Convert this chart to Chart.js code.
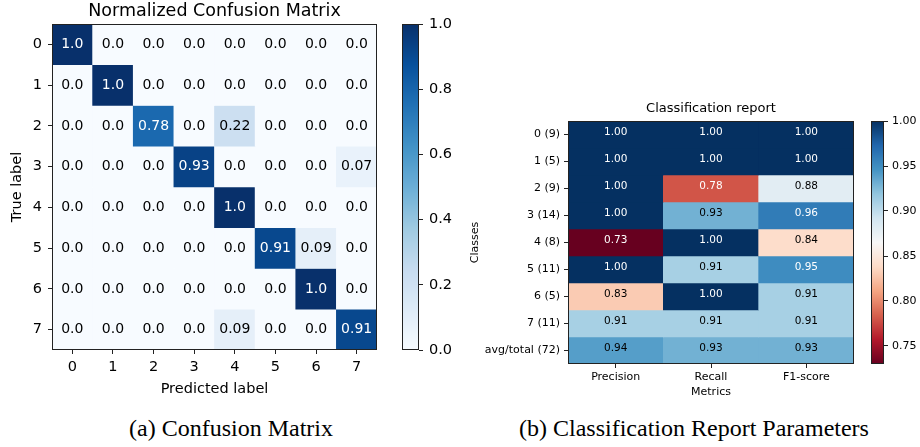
<!DOCTYPE html>
<html>
<head>
<meta charset="utf-8">
<script src="https://cdn.jsdelivr.net/npm/chart.js@4.4.1/dist/chart.umd.min.js"></script>
<style>
    body { margin: 0; background: #fff; }
    #wrap { position: relative; width: 920px; height: 447px; overflow: hidden; background: #fff; }
    #wrap canvas { position: absolute; }
    .cap { position: absolute; top: 415px; font-family: "Liberation Serif", "Times New Roman", serif; font-size: 24px; color: #000; white-space: nowrap; transform: translateX(-50%); }
</style>
</head>
<body>
<div id="wrap">
    <canvas id="cmChart" width="390" height="400" style="left:0;top:0"></canvas>
    <canvas id="cmBar" width="65" height="400" style="left:395px;top:0"></canvas>
    <canvas id="reportChart" width="400" height="310" style="left:460px;top:95px"></canvas>
    <canvas id="reportBar" width="60" height="310" style="left:864px;top:95px"></canvas>
    <div class="cap" style="left:231px">(a) Confusion Matrix</div>
    <div class="cap" style="left:694px">(b) Classification Report Parameters</div>
</div>
<script>
    // Confusion matrix (rows = true label, columns = predicted label)
    const cmLabels = ['0', '1', '2', '3', '4', '5', '6', '7'];
    const cmRow0 = [1.0, 0.0, 0.0, 0.0, 0.0, 0.0, 0.0, 0.0];
    const cmRow1 = [0.0, 1.0, 0.0, 0.0, 0.0, 0.0, 0.0, 0.0];
    const cmRow2 = [0.0, 0.0, 0.78, 0.0, 0.22, 0.0, 0.0, 0.0];
    const cmRow3 = [0.0, 0.0, 0.0, 0.93, 0.0, 0.0, 0.0, 0.07];
    const cmRow4 = [0.0, 0.0, 0.0, 0.0, 1.0, 0.0, 0.0, 0.0];
    const cmRow5 = [0.0, 0.0, 0.0, 0.0, 0.0, 0.91, 0.09, 0.0];
    const cmRow6 = [0.0, 0.0, 0.0, 0.0, 0.0, 0.0, 1.0, 0.0];
    const cmRow7 = [0.0, 0.0, 0.0, 0.0, 0.09, 0.0, 0.0, 0.91];
    const cmBarTicks = [0.0, 0.2, 0.4, 0.6, 0.8, 1.0];

    // Classification report
    const reportClasses = ['0 (9)', '1 (5)', '2 (9)', '3 (14)', '4 (8)', '5 (11)', '6 (5)', '7 (11)', 'avg/total (72)'];
    const reportMetrics = ['Precision', 'Recall', 'F1-score'];
    const precision = [1.00, 1.00, 1.00, 1.00, 0.73, 1.00, 0.83, 0.91, 0.94];
    const recall = [1.00, 1.00, 0.78, 0.93, 1.00, 0.91, 1.00, 0.91, 0.93];
    const f1score = [1.00, 1.00, 0.88, 0.96, 0.84, 0.95, 0.91, 0.91, 0.93];
    const reportBarTicks = [0.75, 0.80, 0.85, 0.90, 0.95, 1.00];
    const reportMin = 0.73, reportMax = 1.00;

    const FONT = "'DejaVu Sans', sans-serif";
    const INK = '#222';

    // matplotlib colormaps
    const BLUES = ['#f7fbff', '#deebf7', '#c6dbef', '#9ecae1', '#6baed6', '#4292c6', '#2171b5', '#08519c', '#08306b'];
    const RDBU = ['#67001f', '#b2182b', '#d6604d', '#f4a582', '#fddbc7', '#f7f7f7', '#d1e5f0', '#92c5de', '#4393c3', '#2166ac', '#053061'];

    function hexRgb(h) {
        return [1, 3, 5].map(i => parseInt(h.slice(i, i + 2), 16));
    }
    function cmap(stops, t) {
        t = Math.max(0, Math.min(1, t));
        const n = stops.length - 1;
        const p = t * n;
        const i = Math.min(Math.floor(p), n - 1);
        const f = p - i;
        const a = hexRgb(stops[i]), b = hexRgb(stops[i + 1]);
        return a.map((c, k) => Math.round(c + (b[k] - c) * f));
    }
    const css = c => `rgb(${c[0]},${c[1]},${c[2]})`;
    const isDark = c => (0.299 * c[0] + 0.587 * c[1] + 0.114 * c[2]) / 255 < 0.5;

    const blues = v => cmap(BLUES, v);
    const rdbu = v => cmap(RDBU, (v - reportMin) / (reportMax - reportMin));

    // value text inside each cell
    const cellText = {
        id: 'cellText',
        afterDatasetsDraw(chart, args, opts) {
            const ctx = chart.ctx;
            ctx.save();
            ctx.font = opts.font;
            ctx.textAlign = 'center';
            ctx.textBaseline = opts.baseline;
            chart.data.datasets.forEach((ds, i) => {
                chart.getDatasetMeta(i).data.forEach((bar, j) => {
                    const p = bar.getProps(['x', 'y', 'base'], true);
                    ctx.fillStyle = isDark(ds.rgb[j]) ? '#fff' : '#000';
                    ctx.fillText(opts.format(ds.values[j]), p.x, (p.y + p.base) / 2 + opts.dy);
                });
            });
            ctx.restore();
        }
    };

    // title centred over the plot area (like matplotlib), not over the canvas
    const plotTitle = {
        id: 'plotTitle',
        afterDraw(chart, args, opts) {
            const a = chart.chartArea, ctx = chart.ctx;
            ctx.save();
            ctx.font = opts.font;
            ctx.fillStyle = '#000';
            ctx.textAlign = 'center';
            ctx.textBaseline = 'middle';
            ctx.fillText(opts.text, (a.left + a.right) / 2, opts.y);
            ctx.restore();
        }
    };

    // axes frame on all four sides
    const frame = {
        id: 'frame',
        afterDraw(chart) {
            const a = chart.chartArea, ctx = chart.ctx;
            ctx.save();
            ctx.strokeStyle = INK;
            ctx.lineWidth = 1;
            ctx.strokeRect(Math.round(a.left) + 0.5, Math.round(a.top) + 0.5, Math.round(a.right - a.left) - 1, Math.round(a.bottom - a.top) - 1);
            ctx.restore();
        }
    };

    function renderHeatmap(id, cfg) {
        const rows = cfg.rows;
        return new Chart(document.getElementById(id), {
            type: 'bar',
            data: {
                labels: cfg.cols,
                datasets: rows.map(r => {
                    const rgb = r.map(cfg.color);
                    return {
                        data: r.map(() => 1),
                        values: r,
                        rgb: rgb,
                        backgroundColor: rgb.map(css),
                        borderWidth: 0,
                        barPercentage: 1,
                        categoryPercentage: 1
                    };
                })
            },
            options: {
                responsive: false,
                animation: false,
                layout: { padding: cfg.padding },
                plugins: {
                    legend: { display: false },
                    tooltip: { enabled: false },
                    title: { display: false },
                    plotTitle: { text: cfg.title, font: `${cfg.titleSize}px ${FONT}`, y: cfg.titleY },
                    cellText: { font: `${cfg.cellSize}px ${FONT}`, format: cfg.format, baseline: cfg.baseline, dy: cfg.dy }
                },
                scales: {
                    x: {
                        stacked: true,
                        grid: { display: true, drawOnChartArea: false, offset: false, tickLength: 4, color: INK, tickWidth: 1 },
                        border: { display: false },
                        ticks: { color: '#000', padding: cfg.xPad, font: { family: FONT, size: cfg.tickSize } },
                        title: { display: true, text: cfg.xTitle, color: '#000', font: { family: FONT, size: cfg.tickSize }, padding: { top: 0, bottom: cfg.xTitleBottom } },
                        afterFit: s => { s.height = cfg.xHeight; }
                    },
                    y: {
                        type: 'linear',
                        stacked: true,
                        min: 0, max: rows.length,
                        reverse: true,
                        afterBuildTicks: s => { s.ticks = cfg.rowLabels.map((_, i) => ({ value: i + 0.5 })); },
                        grid: { display: true, drawOnChartArea: false, tickLength: 4, color: INK, tickWidth: 1 },
                        border: { display: false },
                        ticks: { autoSkip: false, color: '#000', padding: cfg.yPad, font: { family: FONT, size: cfg.tickSize }, callback: (v, i) => cfg.rowLabels[i] },
                        title: { display: true, text: cfg.yTitle, color: '#000', font: { family: FONT, size: cfg.tickSize }, padding: { top: cfg.yTitleTop, bottom: 0 } },
                        afterFit: s => { s.width = cfg.yWidth; }
                    }
                }
            },
            plugins: [cellText, frame, plotTitle]
        });
    }

    function renderColorbar(id, cfg) {
        return new Chart(document.getElementById(id), {
            type: 'bar',
            data: {
                labels: [''],
                datasets: [{
                    data: [[cfg.min, cfg.max]],
                    barPercentage: 1,
                    categoryPercentage: 1,
                    borderWidth: 0,
                    backgroundColor: c => {
                        const area = c.chart.chartArea;
                        if (!area) return css(cfg.color(cfg.max));
                        const y = c.chart.scales.y;
                        const g = c.chart.ctx.createLinearGradient(0, y.getPixelForValue(cfg.min), 0, y.getPixelForValue(cfg.max));
                        for (let k = 0; k <= 40; k++) {
                            g.addColorStop(k / 40, css(cfg.color(cfg.min + (cfg.max - cfg.min) * k / 40)));
                        }
                        return g;
                    }
                }]
            },
            options: {
                responsive: false,
                animation: false,
                layout: { padding: cfg.padding },
                plugins: { legend: { display: false }, tooltip: { enabled: false } },
                scales: {
                    x: { display: false },
                    y: {
                        position: 'right',
                        min: cfg.min, max: cfg.max,
                        afterBuildTicks: s => { s.ticks = cfg.ticks.map(v => ({ value: v })); },
                        grid: { display: true, drawOnChartArea: false, tickLength: 4, color: INK },
                        border: { display: false },
                        ticks: { color: '#000', padding: cfg.pad, font: { family: FONT, size: cfg.size }, callback: v => v.toFixed(cfg.digits) },
                        afterFit: s => { s.width = cfg.width; }
                    }
                }
            },
            plugins: [frame]
        });
    }

    const fmtCm = v => {
        const s = String(Number(v.toFixed(2)));
        return s.includes('.') ? s : s + '.0';
    };

    renderHeatmap('cmChart', {
        rows: [cmRow0, cmRow1, cmRow2, cmRow3, cmRow4, cmRow5, cmRow6, cmRow7],
        cols: cmLabels,
        rowLabels: cmLabels,
        color: blues,
        title: 'Normalized Confusion Matrix',
        titleSize: 17.5,
        titleY: 11,
        tickSize: 14.5,
        cellSize: 14,
        format: fmtCm,
        baseline: 'middle',
        dy: 0,
        xTitle: 'Predicted label',
        yTitle: 'True label',
        padding: { left: 0, right: 13, top: 24, bottom: 0 },
        xHeight: 50,
        yWidth: 52,
        xPad: 5,
        yPad: 6,
        xTitleBottom: 2,
        yTitleTop: 9
    });

    renderColorbar('cmBar', {
        min: 0, max: 1, ticks: cmBarTicks, digits: 1,
        color: blues,
        padding: { left: 7, right: 0, top: 24, bottom: 50 },
        width: 41, pad: 6, size: 14.5
    });

    renderHeatmap('reportChart', {
        rows: precision.map((p, i) => [p, recall[i], f1score[i]]),
        cols: reportMetrics,
        rowLabels: reportClasses,
        color: rdbu,
        title: 'Classification report',
        titleSize: 13,
        titleY: 14,
        tickSize: 11,
        cellSize: 10.5,
        format: v => v.toFixed(2),
        baseline: 'alphabetic',
        dy: 0,
        xTitle: 'Metrics',
        yTitle: 'Classes',
        padding: { left: 0, right: 6, top: 26, bottom: 5 },
        xHeight: 36,
        yWidth: 108,
        xPad: 3,
        yPad: 4,
        xTitleBottom: 1,
        yTitleTop: 9
    });

    renderColorbar('reportBar', {
        min: reportMin, max: reportMax, ticks: reportBarTicks, digits: 2,
        color: rdbu,
        padding: { left: 7, right: 0, top: 26, bottom: 41 },
        width: 40, pad: 4, size: 11
    });
</script>
</body>
</html>
